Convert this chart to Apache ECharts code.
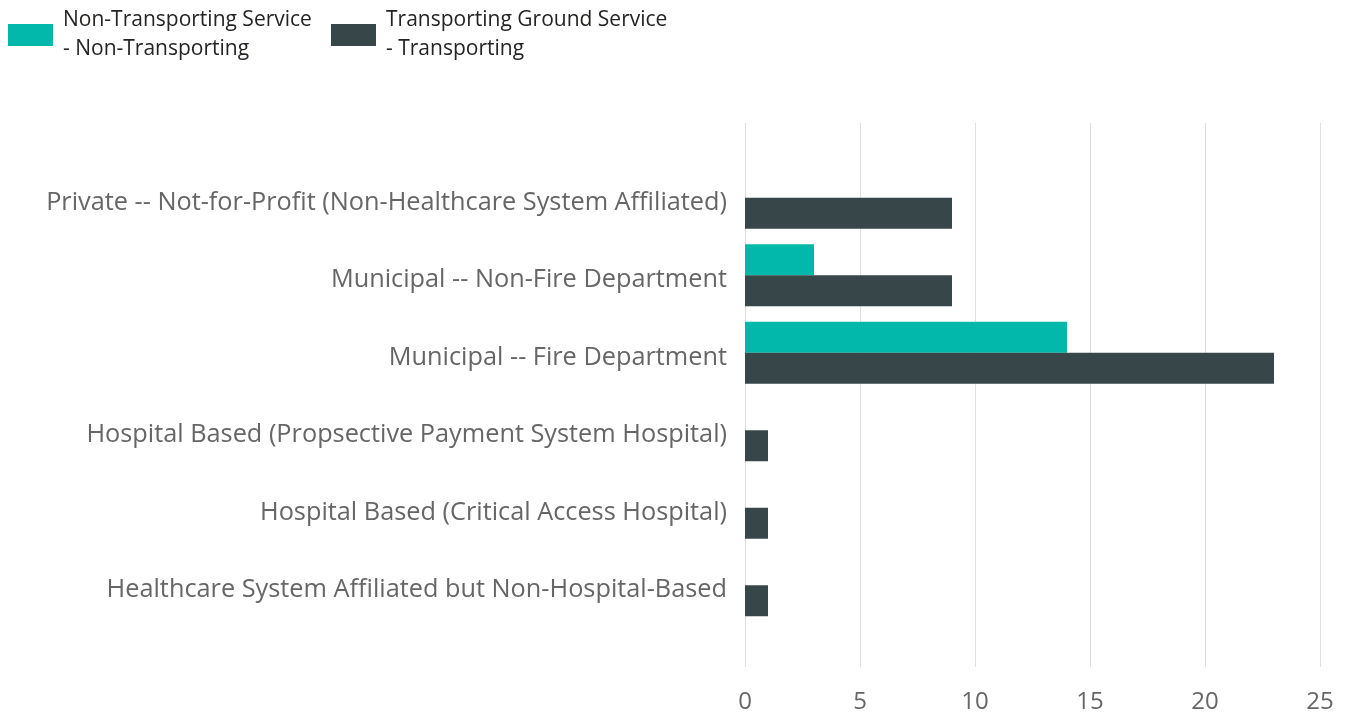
<!DOCTYPE html>
<html>
<head>
<meta charset="utf-8">
<title>Service types</title>
<script src="https://cdn.jsdelivr.net/npm/echarts@6/dist/echarts.min.js"></script>
<style>
  html, body { margin: 0; padding: 0; background: #fff; }
  #chart { width: 1348px; height: 715px; }
</style>
</head>
<body>
<div id="chart"></div>
<script>
// categories, top to bottom
const categories = [
  'Private -- Not-for-Profit (Non-Healthcare System Affiliated)',
  'Municipal -- Non-Fire Department',
  'Municipal -- Fire Department',
  'Hospital Based (Propsective Payment System Hospital)',
  'Hospital Based (Critical Access Hospital)',
  'Healthcare System Affiliated but Non-Hospital-Based'
];
const nonTransporting = [0, 3, 14, 0, 0, 0];
const transporting = [9, 9, 23, 1, 1, 1];
const seriesNames = [
  'Non-Transporting Service\n- Non-Transporting',
  'Transporting Ground Service\n- Transporting'
];
const xMin = 0, xMax = 25, xStep = 5;

const FONT = 'Open Sans';
const chart = echarts.init(document.getElementById('chart'));

const legendBase = {
  icon: 'rect',
  itemWidth: 45,
  itemHeight: 22,
  top: 1,
  selectedMode: false,
  textStyle: { fontFamily: FONT, fontSize: 21, lineHeight: 29, color: '#252423', padding: [0, 0, 0, 5] }
};

chart.setOption({
  animation: false,
  color: ['#01B8AA', '#374649'],
  legend: [
    Object.assign({}, legendBase, { left: 3, data: [seriesNames[0]] }),
    Object.assign({}, legendBase, { left: 326, data: [seriesNames[1]] })
  ],
  grid: [
    // bars + category labels
    { left: 745, right: 28, top: 159, height: 465 },
    // vertical gridlines + value labels
    { left: 745, right: 28, top: 123, height: 544 }
  ],
  xAxis: [
    { type: 'value', gridIndex: 0, min: xMin, max: xMax, interval: xStep, show: false },
    {
      type: 'value', gridIndex: 1, min: xMin, max: xMax, interval: xStep,
      axisLine: { show: false },
      axisTick: { show: false },
      splitLine: { lineStyle: { color: '#dedede', width: 1 } },
      axisLabel: { fontFamily: FONT, fontSize: 24, color: '#666', margin: 23 }
    }
  ],
  yAxis: [
    {
      type: 'category', gridIndex: 0, data: categories, inverse: true,
      axisLine: { show: false },
      axisTick: { show: false },
      axisLabel: {
        margin: 18,
        formatter: v => '{c|' + v + '}',
        rich: { c: { fontFamily: FONT, fontSize: 25.3, color: '#666', padding: [10, 0, 0, 0] } }
      }
    },
    { type: 'value', gridIndex: 1, show: false, min: 0, max: 1 }
  ],
  series: [
    {
      name: seriesNames[0], type: 'bar', xAxisIndex: 0, yAxisIndex: 0,
      data: nonTransporting, barGap: '0%', barCategoryGap: '20%'
    },
    {
      name: seriesNames[1], type: 'bar', xAxisIndex: 0, yAxisIndex: 0,
      data: transporting, barGap: '0%', barCategoryGap: '20%'
    }
  ]
});
</script>
</body>
</html>
